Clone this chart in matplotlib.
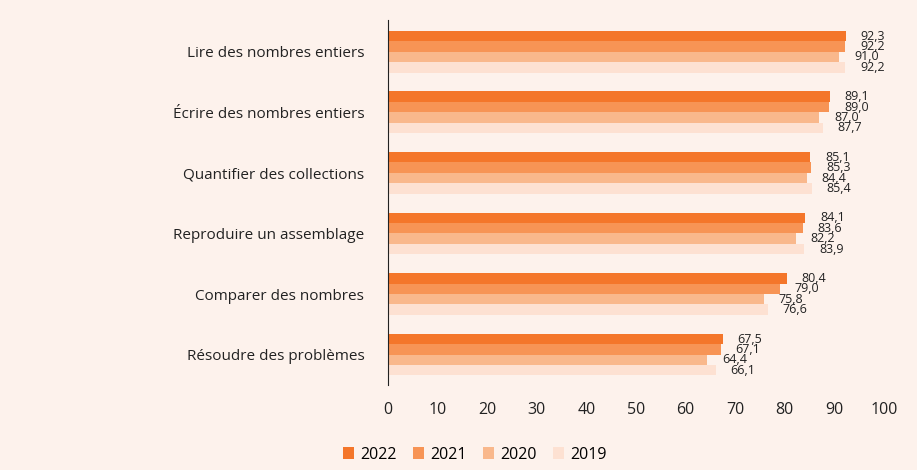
import matplotlib
matplotlib.use("Agg")
import matplotlib.pyplot as plt
import numpy as np

categories = ["Lire des nombres entiers", "Écrire des nombres entiers", "Quantifier des collections",
              "Reproduire un assemblage", "Comparer des nombres", "Résoudre des problèmes"]
years = ["2022", "2021", "2020", "2019"]
v2022 = [92.3, 89.1, 85.1, 84.1, 80.4, 67.5]
v2021 = [92.2, 89.0, 85.3, 83.6, 79.0, 67.1]
v2020 = [91.0, 87.0, 84.4, 82.2, 75.8, 64.4]
v2019 = [92.2, 87.7, 85.4, 83.9, 76.6, 66.1]
series = [v2022, v2021, v2020, v2019]
colors = ["#f4762a", "#f79455", "#f9b88c", "#fde1d2"]
bg = "#fdf2ec"

plt.rcParams['font.family'] = ['Open Sans', 'DejaVu Sans']

fig = plt.figure(figsize=(9.17, 4.70), dpi=100, facecolor=bg)
ax = fig.add_axes([0.423, 0.181, 0.541, 0.776], facecolor=bg)

n = len(categories)
y = np.arange(n)
h = 0.172
for i, (vals, col, yr) in enumerate(zip(series, colors, years)):
    pos = y - 1.5 * h + i * h
    ax.barh(pos, vals, height=h, color=col, label=yr, edgecolor='none')
    for p, v in zip(pos, vals):
        ax.text(v + 3.0, p, f"{v:.1f}".replace('.', ','), va='center', ha='left',
                fontsize=9, color='#222222')

ax.set_yticks(y)
ax.set_yticklabels(categories, fontsize=11, color='#222222')
ax.set_ylim(n - 0.5, -0.52)
ax.set_xlim(0, 100)
ax.set_xticks(np.arange(0, 101, 10))
ax.tick_params(axis='x', labelsize=11.5, length=0, pad=12, colors='#222222')
ax.tick_params(axis='y', length=0, pad=17)
for s in ['top', 'right', 'bottom']:
    ax.spines[s].set_visible(False)
ax.spines['left'].set_color('#222222')

leg = fig.legend(loc='lower center', bbox_to_anchor=(0.518, -0.015), ncol=4, frameon=False,
                 fontsize=11.5, handlelength=0.7, handleheight=0.7, handletextpad=0.4,
                 columnspacing=1.0)

fig.savefig("out.png", dpi=100, facecolor=bg)
